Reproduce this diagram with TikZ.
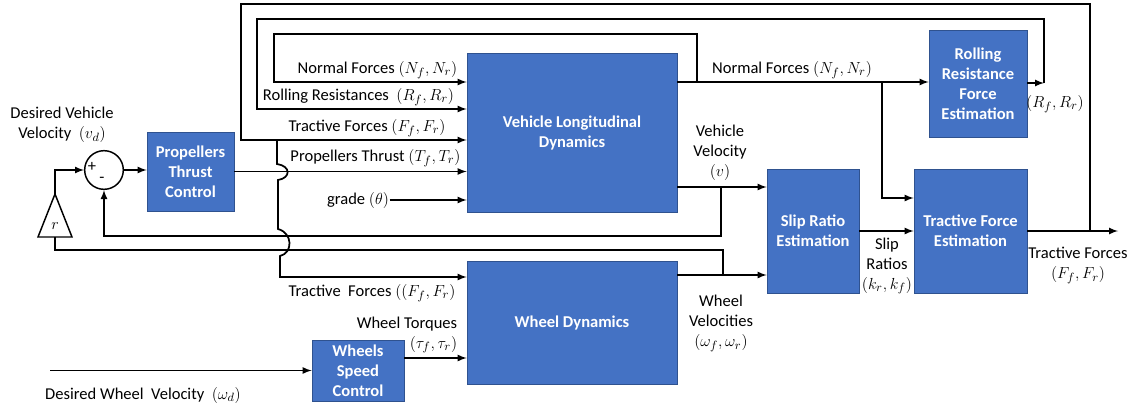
\documentclass[tikz,border=0pt]{standalone}
\usepackage{fontspec}
\setmainfont{Carlito}
\definecolor{blockblue}{HTML}{4472C4}
\definecolor{blockedge}{HTML}{2F528F}
\begin{document}
\begin{tikzpicture}[x=0.75pt,y=-0.75pt,>=latex,line width=1.3pt,
    block/.style={draw=blockedge,line width=0.6pt,fill=blockblue,text=white,align=center,inner sep=0pt,
        font=\fontsize{12.4}{15}\selectfont\bfseries},
    lbl/.style={align=center,inner sep=0pt,font=\fontsize{12.4}{15}\selectfont}]
            \useasboundingbox (0,0) rectangle (1137,414);

            \node[block,minimum width=65.25pt,minimum height=59.25pt] (ptc) at (190.5,171.5) {Propellers\\Thrust\\Control};
            \node[block,minimum width=157.5pt,minimum height=119.25pt] (vld) at (572,132.5) {Vehicle Longitudinal\\Dynamics};
            \node[block,minimum width=73.5pt,minimum height=80.25pt] (rrfe) at (978,83.5) {Rolling\\Resistance\\Force\\Estimation};
            \node[block,minimum width=69pt,minimum height=93pt] (sre) at (813,231) {Slip Ratio\\Estimation};
            \node[block,minimum width=84.75pt,minimum height=93pt] (tfe) at (970.5,231) {Tractive Force\\Estimation};
            \node[block,minimum width=157.5pt,minimum height=92.25pt] (wd) at (572,322.5) {Wheel Dynamics};
            \node[block,minimum width=69pt,minimum height=45.75pt] (wsc) at (358,370.5) {Wheels\\Speed\\Control};

            \node[draw,circle,minimum size=29pt,inner sep=0pt,line width=1.1pt] (sum) at (104,170) {};
            \node[lbl] (plus) at (92,167) {+};
            \node[lbl] (minus) at (102,180) {-};
            \coordinate (gtop) at (55,194);
            \coordinate (gbase) at (55,237);
            \draw[line width=1.1pt] (38,237) -- (gtop) -- (72,237) -- cycle;
            \node[lbl] (gain) at (55,226) {$r$};

            \coordinate (nfsplit) at (697,82);
            \coordinate (tfsplit) at (882,82);
            \coordinate (tfin) at (0,198);
            \coordinate (rrcorner) at (1044,83);
            \coordinate (rrin) at (0,109);
            \coordinate (tfout) at (1090,231);
            \coordinate (tfend) at (1118,231);
            \coordinate (tfdown) at (277,140);
            \coordinate (wdtf) at (0,277);
            \coordinate (vsplit) at (721,187);
            \coordinate (wsplit) at (723,275);
            \coordinate (wt) at (0,358);
            \coordinate (wdin) at (50,370.5);

            \draw[->] (gtop) |- (sum.west);
            \draw[->] (sum.east) -- (ptc.west |- sum.east);
            \draw[->] (ptc.east) -- (vld.west |- ptc.east);

            \draw (vld.east |- nfsplit) -- (nfsplit);
            \draw[->] (nfsplit) -- (rrfe.west |- nfsplit);
            \draw[->] (nfsplit) -- (697,34) -- (274,34) |- (vld.west |- nfsplit);
            \draw[->] (tfsplit) |- (tfe.west |- tfin);

            \draw[->] (rrfe.east |- rrcorner) -- (rrcorner);
            \draw[->] (rrcorner) -- (1044,19) -- (257,19) |- (vld.west |- rrin);

            \draw[->] (tfe.east) -- (tfend);
            \draw[->] (tfout) -- (1090,4) -- (241,4) |- (vld.west |- tfdown);
            \draw[->] (tfdown) -- (277,164) .. controls (291,166) and (291,178) .. (278,180) -- (278,229)
                .. controls (293,233) and (293,253) .. (280,256) |- (wd.west |- wdtf);

            \draw[->] (vld.east |- vsplit) -- (sre.west |- vsplit);
            \draw[->] (vsplit) -- (721,236) -| (sum.south);
            \draw[->] (wd.east |- wsplit) -- (sre.west |- wsplit);
            \draw (wsplit) -- (723,250) -| (gbase);
            \draw[->] (sre.east) -- (tfe.west);

            \draw[->] (wsc.east |- wt) -- (wd.west |- wt);
            \draw[->] (wdin) -- (wsc.west);

            \node[lbl] (grade) at (358,200) {grade $(\theta)$};
            \draw[->] (grade) -- (vld.west |- grade);

            \node[lbl] (vdlbl) at (62,125) {Desired Vehicle\\Velocity~ $(v_d)$};
            \node[lbl] (nflbl) at (377.5,70) {Normal Forces $(N_f,N_r)$};
            \node[lbl] (rrlbl) at (358.5,97) {Rolling Resistances~ $(R_f,R_r)$};
            \node[lbl] (tflbl) at (367,128) {Tractive Forces $(F_f,F_r)$};
            \node[lbl] (ptlbl) at (375.5,158) {Propellers Thrust $(T_f,T_r)$};
            \node[lbl] (nfout) at (792,70) {Normal Forces $(N_f,N_r)$};
            \node[lbl] (rrout) at (1055,104) {$(R_f,R_r)$};
            \node[lbl] (vlbl) at (720,153) {Vehicle\\Velocity\\$(v)$};
            \node[lbl] (sllbl) at (887,266) {Slip\\Ratios\\$(k_r,k_f)$};
            \node[lbl] (tfoutlbl) at (1078,265.5) {Tractive Forces\\$(F_f,F_r)$};
            \node[lbl] (wtf) at (372,293) {Tractive~ Forces $((F_f,F_r)$};
            \node[lbl] (wvlbl) at (721,323.5) {Wheel\\Velocities\\$(\omega_f,\omega_r)$};
            \node[lbl,align=right,anchor=east] (wtlbl) at (458,335) {Wheel Torques\\$(\tau_f,\tau_r)$};
            \node[lbl] (wdlbl) at (143,395) {Desired Wheel~ Velocity~ $(\omega_d)$};
        \end{tikzpicture}
\end{document}
